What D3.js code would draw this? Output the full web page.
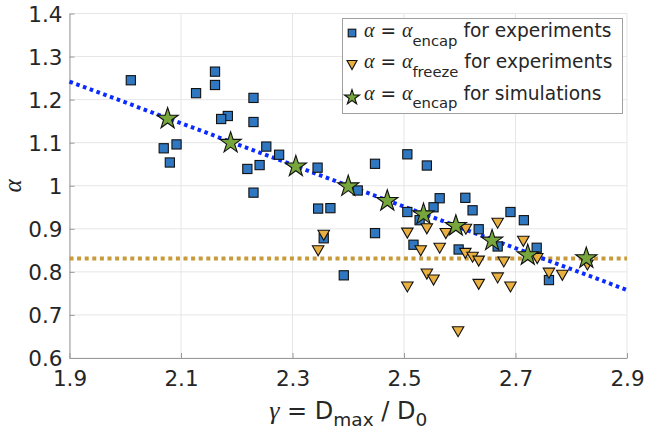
<!DOCTYPE html>
<html>
<head>
<meta charset="utf-8">
<script src="https://cdn.jsdelivr.net/npm/d3@7"></script>
<style>
  html, body { margin: 0; padding: 0; background: #fff; }
  svg { display: block; }
</style>
</head>
<body>
<svg id="chart" width="645" height="432"></svg>
<script>
// alpha_encap measured in experiments (blue squares)
const encapExpGamma = [2.010, 2.161, 2.161, 2.127, 2.230, 2.184, 2.172, 2.230, 2.069, 2.092,
                       2.080, 2.253, 2.276, 2.219, 2.241, 2.230, 2.345, 2.448, 2.506, 2.541,
                       2.417, 2.346, 2.368, 2.564, 2.553, 2.506, 2.528, 2.448, 2.356, 2.517,
                       2.392, 2.610, 2.623, 2.691, 2.715, 2.634, 2.598, 2.668, 2.738, 2.760];
const encapExpAlpha = [1.245, 1.265, 1.234, 1.215, 1.204, 1.162, 1.155, 1.148, 1.087, 1.096,
                       1.054, 1.091, 1.072, 1.039, 1.048, 0.984, 1.042, 1.051, 1.073, 1.047,
                       0.989, 0.947, 0.948, 0.971, 0.950, 0.939, 0.920, 0.890, 0.878, 0.863,
                       0.792, 0.972, 0.943, 0.939, 0.920, 0.899, 0.852, 0.859, 0.856, 0.781];

// alpha_freeze measured in experiments (gold triangles)
const freezeExpGamma = [2.356, 2.346, 2.506, 2.541, 2.575, 2.530, 2.564, 2.541, 2.553, 2.506,
                        2.597, 2.611, 2.668, 2.610, 2.623, 2.634, 2.679, 2.714, 2.739, 2.760,
                        2.784, 2.829, 2.634, 2.668, 2.691];
const freezeExpAlpha = [0.885, 0.849, 0.890, 0.900, 0.889, 0.849, 0.855, 0.795, 0.781, 0.765,
                        0.661, 0.899, 0.913, 0.843, 0.834, 0.825, 0.823, 0.871, 0.831, 0.797,
                        0.792, 0.816, 0.771, 0.786, 0.765];

// alpha_encap from simulations (green stars)
const encapSimGamma = [2.076, 2.189, 2.306, 2.400, 2.470, 2.535, 2.593, 2.658, 2.722, 2.827];
const encapSimAlpha = [1.158, 1.102, 1.047, 1.001, 0.967, 0.936, 0.909, 0.875, 0.841, 0.834];

// linear fit through the encapsulation data and mean freeze value
const fitGamma = [1.9, 2.9];
const fitAlpha = [1.242, 0.758];
const freezeMean = 0.831;

const xTicks = [1.9, 2.1, 2.3, 2.5, 2.7, 2.9];
const yTicks = [0.6, 0.7, 0.8, 0.9, 1.0, 1.1, 1.2, 1.3, 1.4];
const xTickLabels = ["1.9", "2.1", "2.3", "2.5", "2.7", "2.9"];
const yTickLabels = ["0.6", "0.7", "0.8", "0.9", "1", "1.1", "1.2", "1.3", "1.4"];

const legendRows = [
  { sym: "square",   sub: "encap",  rest: "for experiments" },
  { sym: "triangle", sub: "freeze", rest: "for experiments" },
  { sym: "star",     sub: "encap",  rest: "for simulations" }
];

const C = {
  square: "#2f78c1",
  triangle: "#e9b041",
  star: "#77a63c",
  fit: "#0a2bff",
  freeze: "#c89a3a",
  grid: "#e6e6e6",
  axis: "#9a9a9a",
  text: "#262626"
};

const SANS = "'DejaVu Sans', sans-serif";
const GREEK = "'Liberation Serif', 'DejaVu Serif', serif";

const svg = d3.select("#chart");
const plotLeft = 69.5, plotRight = 627, plotTop = 13.5, plotBottom = 358;

const x = d3.scaleLinear().domain([1.9, 2.9]).range([plotLeft, plotRight]);
const y = d3.scaleLinear().domain([0.6, 1.4]).range([plotBottom, plotTop]);

// grid
const grid = svg.append("g");
grid.selectAll("line.gx").data(xTicks).join("line")
  .attr("x1", d => x(d)).attr("x2", d => x(d))
  .attr("y1", plotTop).attr("y2", plotBottom)
  .attr("stroke", C.grid).attr("stroke-width", 1);
grid.selectAll("line.gy").data(yTicks).join("line")
  .attr("x1", plotLeft).attr("x2", plotRight)
  .attr("y1", d => y(d)).attr("y2", d => y(d))
  .attr("stroke", C.grid).attr("stroke-width", 1);

// axes (ticks pointing inward)
const xAxis = d3.axisBottom(x).tickValues(xTicks)
  .tickFormat((d, i) => xTickLabels[i]).tickSizeInner(-5).tickSizeOuter(0).tickPadding(12);
const yAxis = d3.axisLeft(y).tickValues(yTicks)
  .tickFormat((d, i) => yTickLabels[i]).tickSizeInner(-5).tickSizeOuter(0).tickPadding(12);

const gx = svg.append("g").attr("transform", `translate(0,${plotBottom})`).call(xAxis);
const gy = svg.append("g").attr("transform", `translate(${plotLeft},0)`).call(yAxis);
[gx, gy].forEach(g => {
  g.select(".domain").attr("stroke", C.axis).attr("stroke-width", 1);
  g.selectAll(".tick line").attr("stroke", C.axis);
  g.selectAll(".tick text").attr("fill", C.text)
    .attr("font-family", SANS).attr("font-size", 21.5);
});
gx.selectAll(".tick text").attr("dy", null).attr("y", 27.7);
gy.selectAll(".tick text").attr("x", -7).attr("dy", "0.36em");

// fit lines
const plot = svg.append("g");
const line = d3.line().x(d => x(d[0])).y(d => y(d[1]));
plot.append("path")
  .datum([[x.domain()[0], freezeMean], [x.domain()[1], freezeMean]])
  .attr("d", line).attr("fill", "none")
  .attr("stroke", C.freeze).attr("stroke-width", 4)
  .attr("stroke-dasharray", "4,3.6");
plot.append("path")
  .datum(fitGamma.map((g, i) => [g, fitAlpha[i]]))
  .attr("d", line).attr("fill", "none")
  .attr("stroke", C.fit).attr("stroke-width", 4)
  .attr("stroke-dasharray", "3.6,3.6");

// marker shapes
function triPath(w, h) {
  return `M${-w / 2},${-h / 2}L${w / 2},${-h / 2}L0,${h / 2}Z`;
}
const starSym = s => d3.symbol().type(d3.symbolStar).size(s)();

// squares
plot.selectAll("rect.sq").data(encapExpGamma.map((g, i) => [g, encapExpAlpha[i]]))
  .join("rect")
  .attr("x", d => x(d[0]) - 4.6).attr("y", d => y(d[1]) - 4.6)
  .attr("width", 9.2).attr("height", 9.2)
  .attr("fill", C.square).attr("stroke", "#111").attr("stroke-width", 1.1);

// triangles
plot.selectAll("path.tri").data(freezeExpGamma.map((g, i) => [g, freezeExpAlpha[i]]))
  .join("path")
  .attr("d", triPath(11.5, 10))
  .attr("transform", d => `translate(${x(d[0])},${y(d[1])})`)
  .attr("fill", C.triangle).attr("stroke", "#111").attr("stroke-width", 1.1)
  .attr("stroke-linejoin", "miter");

// stars
plot.selectAll("path.star").data(encapSimGamma.map((g, i) => [g, encapSimAlpha[i]]))
  .join("path")
  .attr("d", starSym(140))
  .attr("transform", d => `translate(${x(d[0])},${y(d[1]) + 1})`)
  .attr("fill", C.star).attr("stroke", "#111").attr("stroke-width", 1.1);

// axis titles
const xt = svg.append("text")
  .attr("x", (plotLeft + plotRight) / 2).attr("y", 419.3)
  .attr("text-anchor", "middle").attr("fill", C.text)
  .attr("font-family", SANS).attr("font-size", 24);
xt.append("tspan").attr("font-family", GREEK).attr("font-style", "italic").attr("font-size", 26).text("γ");
xt.append("tspan").text(" = D");
xt.append("tspan").attr("font-size", 18.5).attr("dy", 7).text("max");
xt.append("tspan").attr("dy", -7).text(" / D");
xt.append("tspan").attr("font-size", 18.5).attr("dy", 7).text("0");

svg.append("text")
  .attr("transform", "translate(21,186) rotate(-90)")
  .attr("text-anchor", "middle").attr("fill", C.text)
  .attr("font-family", GREEK).attr("font-style", "italic").attr("font-size", 25)
  .text("α");

// legend
const lg = svg.append("g");
lg.append("rect")
  .attr("x", 342.5).attr("y", 18.5).attr("width", 280).attr("height", 95)
  .attr("fill", "#fff").attr("stroke", "#a0a0a0").attr("stroke-width", 1);

const rowY = [37, 68, 99.5];
legendRows.forEach((r, i) => {
  const cy = rowY[i] - 4;
  const mx = 352;
  if (r.sym === "square") {
    lg.append("rect").attr("x", mx - 3.8).attr("y", cy - 3.8).attr("width", 7.6).attr("height", 7.6)
      .attr("fill", C.square).attr("stroke", "#111").attr("stroke-width", 1.1);
  } else if (r.sym === "triangle") {
    lg.append("path").attr("d", triPath(10, 9))
      .attr("transform", `translate(${mx},${cy + 1})`)
      .attr("fill", C.triangle).attr("stroke", "#111").attr("stroke-width", 1.1);
  } else {
    lg.append("path").attr("d", starSym(70))
      .attr("transform", `translate(${mx},${cy + 2})`)
      .attr("fill", C.star).attr("stroke", "#111").attr("stroke-width", 1.1);
  }
  const t = lg.append("text")
    .attr("x", 364).attr("y", rowY[i])
    .attr("fill", C.text).attr("font-family", SANS).attr("font-size", 18.6);
  t.append("tspan").attr("font-family", GREEK).attr("font-style", "italic").attr("font-size", 20).text("α");
  t.append("tspan").text(" = ");
  t.append("tspan").attr("font-family", GREEK).attr("font-style", "italic").attr("font-size", 20).text("α");
  t.append("tspan").attr("font-size", 14.8).attr("dy", 8.5).text(r.sub);
  t.append("tspan").attr("dy", -8.5).text(" " + r.rest);
});
</script>
</body>
</html>
